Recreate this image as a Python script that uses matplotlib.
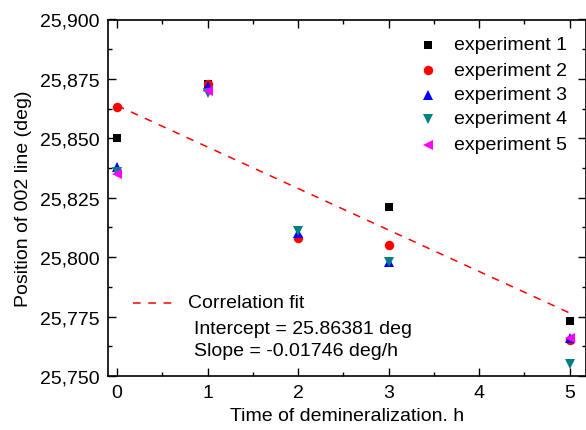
import matplotlib
matplotlib.use("Agg")
import matplotlib.pyplot as plt
from matplotlib.ticker import FuncFormatter, MultipleLocator
import numpy as np

plt.rcParams['font.family'] = ['Liberation Sans', 'DejaVu Sans']

time = [0, 1, 2, 3, 5]
exp1 = [25.850, 25.873, np.nan, 25.821, 25.773]
exp2 = [25.863, 25.873, 25.808, 25.805, 25.765]
exp3 = [25.838, 25.872, 25.810, 25.798, 25.766]
exp4 = [25.836, 25.869, 25.811, 25.798, 25.755]
exp5 = [25.835, 25.870, np.nan, np.nan, 25.766]
labels = ["experiment 1", "experiment 2", "experiment 3", "experiment 4", "experiment 5"]
intercept = 25.86381
slope = -0.01746

FS = 14
fig = plt.figure(figsize=(5.86, 4.31), dpi=100)
ax = fig.add_axes([108/586, 1-377/431, (586-108)/586, (377-20.5)/431])

styles = [("s", "black", 5.8), ("o", "red", 6.8), ("^", "blue", 7), ("v", "#008080", 7), ("<", "magenta", 7)]
for data, (m, c, ms), lab in zip([exp1, exp2, exp3, exp4, exp5], styles, labels):
    ax.plot(time, data, linestyle="none", marker=m, color=c, markersize=ms,
            markeredgewidth=0, label=lab)

xf = np.array([0, 5])
ax.plot(xf, intercept + slope * xf, color="red", linestyle=(0, (5, 5)), linewidth=1.1)

ax.set_xlim(-0.1, 5.18)
ax.set_ylim(25.75, 25.90)
ax.xaxis.set_major_locator(MultipleLocator(1))
ax.xaxis.set_minor_locator(MultipleLocator(0.5))
ax.yaxis.set_major_locator(MultipleLocator(0.025))
ax.yaxis.set_minor_locator(MultipleLocator(0.0125))
ax.yaxis.set_major_formatter(FuncFormatter(lambda v, p: f"{v:.3f}".replace(".", ",")))
ax.tick_params(which="both", direction="in", top=True, right=True, labelsize=FS, width=1)
ax.tick_params(which="major", length=6, pad=6)
ax.tick_params(which="minor", length=3)
for s in ax.spines.values():
    s.set_linewidth(1.2)

ax.set_xlabel("Time of demineralization. h", fontsize=FS, labelpad=4)
ax.set_ylabel("Position of 002 line (deg)", fontsize=FS, labelpad=6)

# legend (manual placement)
W, H = 586 - 108, 377 - 20.5
row_y = [46, 71, 96, 120, 146]
for (m, c, ms), lab, yp in zip(styles, labels, row_y):
    ya = (377 - yp) / H
    ax.plot([(428 - 108) / W], [ya], transform=ax.transAxes, marker=m, color=c,
            markersize=ms, markeredgewidth=0, linestyle="none", clip_on=False)
    ax.text((454 - 108) / W, ya, lab, transform=ax.transAxes, fontsize=FS, va="center")

yfit = (377 - 304) / H
ax.plot([(133 - 108) / W, (178 - 108) / W], [yfit, yfit], transform=ax.transAxes,
        color="red", linestyle=(0, (5, 5)), linewidth=1.1)
ax.text((188 - 108) / W, yfit, "Correlation fit", transform=ax.transAxes, fontsize=FS, va="center")
ax.text((194 - 108) / W, (377 - 329) / H, "Intercept = 25.86381 deg", transform=ax.transAxes,
        fontsize=FS, va="center")
ax.text((194 - 108) / W, (377 - 352) / H, "Slope = -0.01746 deg/h", transform=ax.transAxes,
        fontsize=FS, va="center")

fig.savefig("out.png", dpi=100)
